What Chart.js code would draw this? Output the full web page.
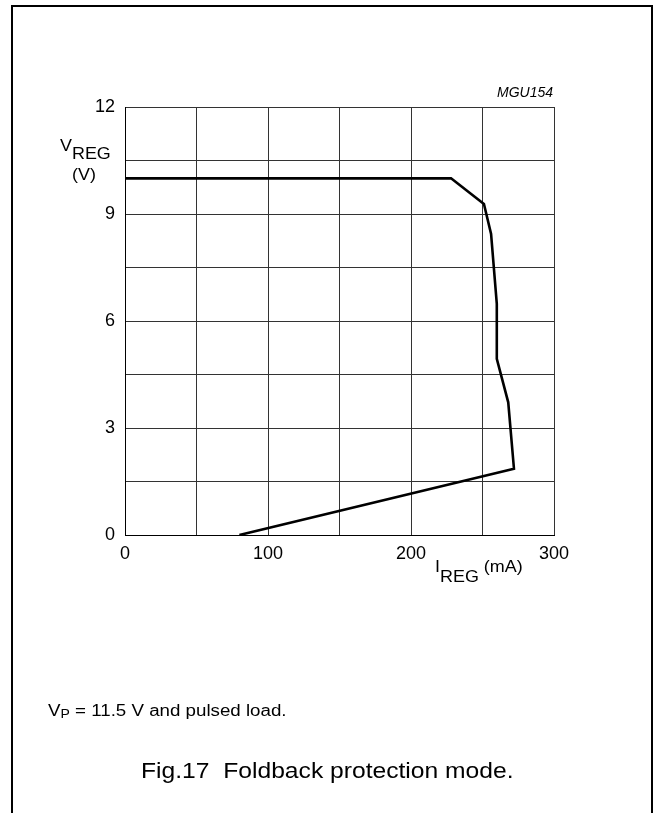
<!DOCTYPE html>
<html>
<head>
<meta charset="utf-8">
<script src="https://cdn.jsdelivr.net/npm/chart.js@4/dist/chart.umd.min.js"></script>
<style>
  html, body { margin: 0; padding: 0; background: #fff; }
  body { width: 655px; height: 813px; position: relative; overflow: hidden; font-family: "Liberation Sans", Arial, sans-serif; color: #000; }
  #frame { position: absolute; left: 11px; top: 5px; width: 642px; height: 820px; border: 2px solid #000; border-bottom: none; box-sizing: border-box; }
  #chart { position: absolute; left: 0; top: 0; }
  .lbl { position: absolute; line-height: 1; white-space: nowrap; transform-origin: left top; }
  .sub { position: relative; }
</style>
</head>
<body>
<div id="frame"></div>
<canvas id="chart" width="655" height="813"></canvas>

<div class="lbl" style="left:60px;top:138px;font-size:16px;transform:scaleX(1.12)">V<span class="sub" style="top:8px">REG</span></div>
<div class="lbl" style="left:72px;top:167px;font-size:16px;transform:scaleX(1.12)">(V)</div>
<div class="lbl" style="left:497px;top:85px;font-size:14px;font-style:italic">MGU154</div>
<div class="lbl" style="left:435px;top:559px;font-size:16px;transform:scaleX(1.12)">I<span class="sub" style="top:10px">REG</span> (mA)</div>
<div class="lbl" style="left:48px;top:703px;font-size:16px;transform:scaleX(1.17)">V<span class="sub" style="font-size:12px;top:2px">P</span> = 11.5 V and pulsed load.</div>
<div class="lbl" style="left:0;width:655px;top:760px;font-size:22px;text-align:center"><span style="display:inline-block;transform:scaleX(1.12)">Fig.17&nbsp;&nbsp;Foldback protection mode.</span></div>

<script>
'use strict';

// foldback curve: I_REG (mA) against V_REG (V)
const currentMA = [0, 228, 251, 256, 260, 260, 268, 272, 80];
const voltageV  = [10, 10, 9.28, 8.44, 6.48, 4.94, 3.72, 1.86, 0];

const xTickLabels = [0, 100, 200, 300];
const yTickLabels = [0, 3, 6, 9, 12];

const gridCol = '#333';
const tickFont = { family: '"Liberation Sans", Arial, sans-serif', size: 18 };

new Chart(document.getElementById('chart'), {
  type: 'scatter',
  data: {
    datasets: [{
      data: currentMA.map((x, i) => ({ x, y: voltageV[i] })),
      showLine: true,
      borderColor: '#000',
      borderWidth: 2.6,
      pointRadius: 0,
      tension: 0,
      borderJoinStyle: 'miter'
    }]
  },
  options: {
    responsive: false,
    devicePixelRatio: 1,
    animation: false,
    layout: { padding: { left: 0, right: 101, top: 107, bottom: 238 } },
    plugins: { legend: { display: false }, tooltip: { enabled: false } },
    scales: {
      x: {
        type: 'linear', min: 0, max: 300,
        afterFit: s => { s.height = 40; },
        border: { display: true, color: '#000', width: 1 },
        grid: { color: gridCol, lineWidth: 1, drawTicks: false },
        ticks: {
          stepSize: 50, autoSkip: false, maxRotation: 0, padding: 8,
          color: '#000', font: tickFont,
          callback: v => xTickLabels.includes(v) ? String(v) : ''
        }
      },
      y: {
        type: 'linear', min: 0, max: 12,
        afterFit: s => { s.width = 125; },
        border: { display: true, color: '#000', width: 1 },
        grid: { color: gridCol, lineWidth: 1, drawTicks: false },
        ticks: {
          stepSize: 1.5, autoSkip: false, padding: 10,
          color: '#000', font: tickFont,
          callback: v => yTickLabels.includes(v) ? String(v) : ''
        }
      }
    }
  }
});
</script>
</body>
</html>
